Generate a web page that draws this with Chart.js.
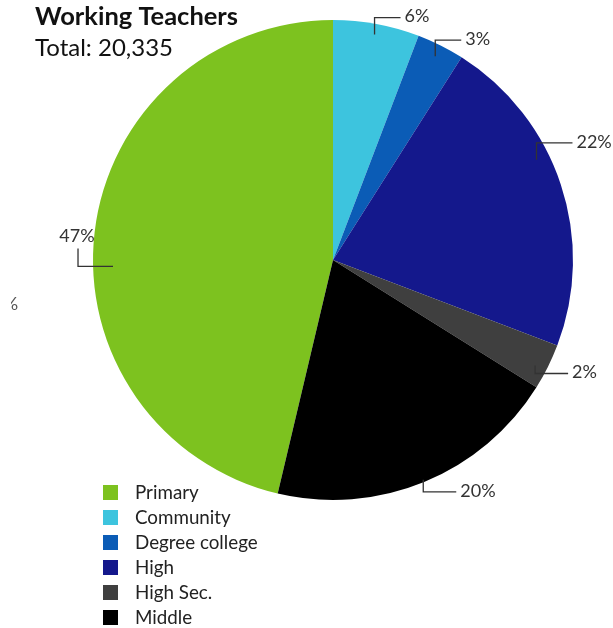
<!DOCTYPE html>
<html>
<head>
<meta charset="utf-8">
<script src="https://cdn.jsdelivr.net/npm/chart.js@4.4.1/dist/chart.umd.min.js"></script>
<style>
    html, body { margin: 0; padding: 0; background: #fff; }
    #wrap { width: 613px; height: 628px; position: relative; }
</style>
</head>
<body>
<div id="wrap"><canvas id="myChart"></canvas></div>
<script>
// Data
var categories = ['Primary', 'Community', 'Degree college', 'High', 'High Sec.', 'Middle'];
var teachers = [9415, 1180, 650, 4433, 630, 4027];
var percentLabels = ['47%', '6%', '3%', '22%', '2%', '20%'];
var sliceColors = ['#7DC21F', '#3DC4DE', '#0B5CB6', '#14188C', '#3F3F3F', '#000000'];

var total = teachers.reduce(function (a, b) { return a + b; }, 0);
var FONT = 'Lato, "Open Sans", sans-serif';

// where each leader line leaves its slice (fraction along the arc, fraction of radius)
var leaders = [
    { at: 0.45, r: 0.917, kind: 'left', dx: 35, dy: 18 },
    { at: 0.5, r: 0.955, kind: 'up', dx: 26, dy: 17 },
    { at: 0.5, r: 0.95, kind: 'up', dx: 26, dy: 16 },
    { at: 0.40, r: 0.945, kind: 'up', dx: 36, dy: 17 },
    { at: 0.6, r: 0.95, kind: 'down', dx: 33, dy: 8 },
    { at: 0.5, r: 0.99, kind: 'down', dx: 33, dy: 12 }
];

// draw text squeezed/stretched to a given width
function fitText(ctx, txt, x, y, width) {
    var w = ctx.measureText(txt).width;
    ctx.save();
    ctx.translate(x, y);
    ctx.scale(width / w, 1);
    ctx.fillText(txt, 0, 0);
    ctx.restore();
}

var decorPlugin = {
    id: 'decor',
    afterDraw: function (chart) {
        var ctx = chart.ctx;
        var meta = chart.getDatasetMeta(0);
        ctx.save();

        // title
        ctx.fillStyle = '#111';
        ctx.textBaseline = 'alphabetic';
        ctx.textAlign = 'left';
        ctx.font = 'bold 25px ' + FONT;
        fitText(ctx, 'Working Teachers', 35, 25, 203);
        ctx.font = '24px ' + FONT;
        fitText(ctx, 'Total: ' + total.toLocaleString('en-US'), 35, 56, 138);

        // leader lines + percent labels
        ctx.strokeStyle = '#333';
        ctx.lineWidth = 1.3;
        ctx.font = '18px ' + FONT;
        ctx.fillStyle = '#333';
        ctx.textBaseline = 'middle';
        meta.data.forEach(function (arc, i) {
            var p = arc.getProps(['x', 'y', 'startAngle', 'endAngle', 'outerRadius'], true);
            var L = leaders[i];
            var a = p.startAngle + L.at * (p.endAngle - p.startAngle);
            var ax = p.x + Math.cos(a) * p.outerRadius * L.r;
            var ay = p.y + Math.sin(a) * p.outerRadius * L.r;
            ctx.beginPath();
            if (L.kind === 'left') {
                ctx.moveTo(ax, ay);
                ctx.lineTo(ax - L.dx, ay);
                ctx.lineTo(ax - L.dx, ay - L.dy);
                ctx.stroke();
                ctx.textAlign = 'center';
                ctx.fillText(percentLabels[i], ax - L.dx - 1, ay - L.dy - 12);
            } else {
                var ey = L.kind === 'up' ? ay - L.dy : ay + L.dy;
                ctx.moveTo(ax, ay);
                ctx.lineTo(ax, ey);
                ctx.lineTo(ax + L.dx, ey);
                ctx.stroke();
                ctx.textAlign = 'left';
                ctx.fillText(percentLabels[i], ax + L.dx + 4, ey - 1);
            }
        });

        // stray clipped glyph at the left edge
        ctx.save();
        ctx.beginPath();
        ctx.rect(11, 290, 20, 30);
        ctx.clip();
        ctx.textAlign = 'center';
        ctx.fillStyle = '#555';
        ctx.font = '18px ' + FONT;
        ctx.fillText('%', 11, 304);
        ctx.restore();

        // legend
        ctx.textAlign = 'left';
        ctx.textBaseline = 'middle';
        ctx.font = '18.8px ' + FONT;
        chart.data.labels.forEach(function (lab, i) {
            var y = 493 + i * 25;
            ctx.fillStyle = chart.data.datasets[0].backgroundColor[i];
            ctx.fillRect(103, y - 8, 15, 15);
            ctx.fillStyle = '#222';
            ctx.fillText(lab, 135, y);
        });

        ctx.restore();
    }
};

var ctx = document.getElementById('myChart').getContext('2d');
window.myChart = new Chart(ctx, {
    type: 'pie',
    data: {
        labels: categories,
        datasets: [{
            data: teachers,
            backgroundColor: sliceColors,
            borderWidth: 0
        }]
    },
    options: {
        responsive: true,
        maintainAspectRatio: false,
        animation: false,
        rotation: -teachers[0] / total * 360,
        layout: {
            padding: { left: 93, right: 40, top: 20, bottom: 128 }
        },
        plugins: {
            legend: { display: false },
            tooltip: { enabled: false }
        }
    },
    plugins: [decorPlugin]
});
</script>
</body>
</html>
